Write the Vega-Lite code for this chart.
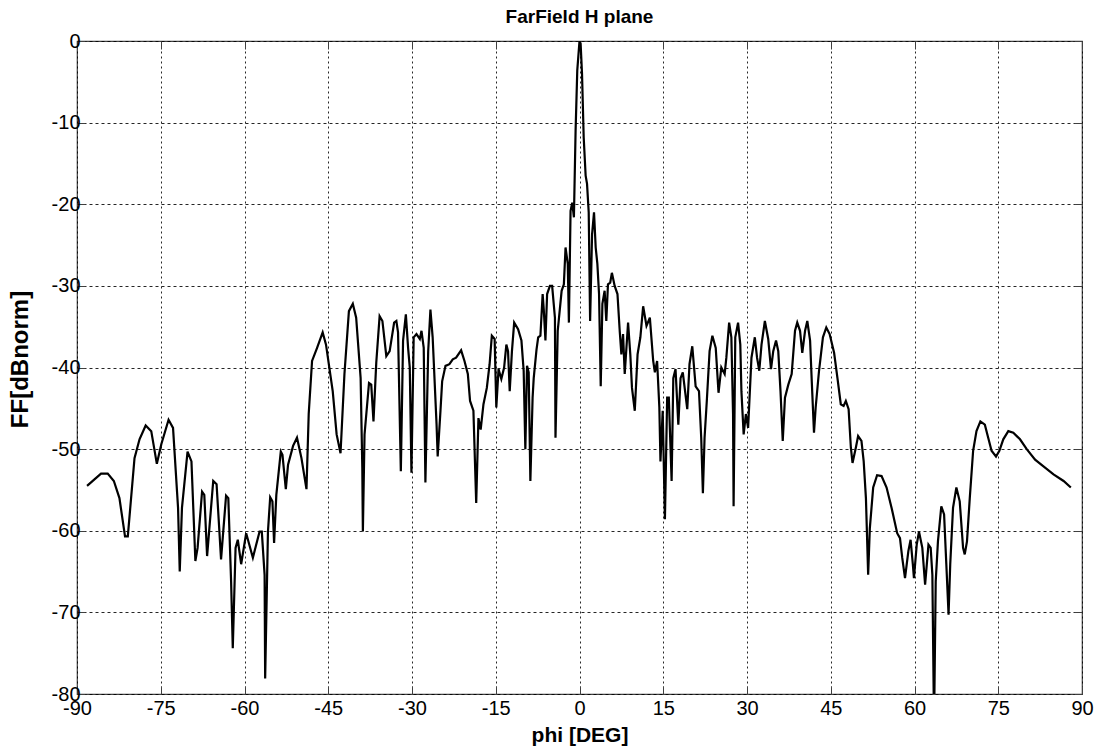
{
  "$schema": "https://vega.github.io/schema/vega-lite/v6.json",
  "width": 1005,
  "height": 653,
  "autosize": "none",
  "padding": {"left": 77, "top": 41, "right": 19, "bottom": 57},
  "background": "white",
  "config": {
    "view": {"stroke": "#404040", "strokeWidth": 1.2},
    "font": "Liberation Sans"
  },
  "title": {
    "text": "FarField H plane",
    "fontSize": 19,
    "fontWeight": "bold",
    "font": "Liberation Sans",
    "color": "black",
    "offset": 4,
    "anchor": "middle",
    "frame": "group"
  },
  "data": {
    "values": [
      {"phi": -88.2, "ff": -54.5}, {"phi": -85.7, "ff": -53.0}, {"phi": -84.5, "ff": -53.0}, {"phi": -83.4, "ff": -53.9},
      {"phi": -82.4, "ff": -56.0}, {"phi": -81.4, "ff": -60.7}, {"phi": -80.9, "ff": -60.7}, {"phi": -79.7, "ff": -51.1},
      {"phi": -78.8, "ff": -48.8}, {"phi": -77.7, "ff": -47.1}, {"phi": -76.7, "ff": -47.8}, {"phi": -75.7, "ff": -51.8},
      {"phi": -74.9, "ff": -49.4}, {"phi": -73.6, "ff": -46.4}, {"phi": -72.8, "ff": -47.4}, {"phi": -71.9, "ff": -57.2},
      {"phi": -71.6, "ff": -65.0}, {"phi": -71.2, "ff": -57.2}, {"phi": -70.2, "ff": -50.3}, {"phi": -69.5, "ff": -51.5},
      {"phi": -68.8, "ff": -63.7}, {"phi": -68.4, "ff": -62.1}, {"phi": -67.6, "ff": -55.2}, {"phi": -67.2, "ff": -55.6},
      {"phi": -66.7, "ff": -63.1}, {"phi": -65.6, "ff": -53.9}, {"phi": -65.0, "ff": -54.3}, {"phi": -64.2, "ff": -63.5},
      {"phi": -63.3, "ff": -55.7}, {"phi": -62.9, "ff": -56.0}, {"phi": -62.4, "ff": -66.2}, {"phi": -62.1, "ff": -74.4},
      {"phi": -61.6, "ff": -62.1}, {"phi": -61.2, "ff": -61.1}, {"phi": -60.6, "ff": -64.1}, {"phi": -59.7, "ff": -60.3},
      {"phi": -58.5, "ff": -63.3}, {"phi": -57.3, "ff": -60.1}, {"phi": -56.9, "ff": -60.1}, {"phi": -56.4, "ff": -65.4},
      {"phi": -56.3, "ff": -78.1}, {"phi": -55.8, "ff": -60.1}, {"phi": -55.4, "ff": -55.9}, {"phi": -55.0, "ff": -56.4},
      {"phi": -54.7, "ff": -61.5}, {"phi": -54.3, "ff": -55.6}, {"phi": -53.5, "ff": -50.3}, {"phi": -53.2, "ff": -50.7},
      {"phi": -52.6, "ff": -54.9}, {"phi": -52.2, "ff": -51.9}, {"phi": -51.3, "ff": -49.6}, {"phi": -50.6, "ff": -48.6},
      {"phi": -49.8, "ff": -51.1}, {"phi": -48.9, "ff": -54.9}, {"phi": -48.5, "ff": -45.7}, {"phi": -47.9, "ff": -39.2},
      {"phi": -47.0, "ff": -37.6}, {"phi": -46.0, "ff": -35.7}, {"phi": -45.4, "ff": -37.2}, {"phi": -44.2, "ff": -42.9},
      {"phi": -43.5, "ff": -48.2}, {"phi": -42.8, "ff": -50.5}, {"phi": -42.1, "ff": -40.8}, {"phi": -41.3, "ff": -33.1},
      {"phi": -40.6, "ff": -32.2}, {"phi": -40.0, "ff": -33.9}, {"phi": -39.2, "ff": -41.3}, {"phi": -38.9, "ff": -52.3},
      {"phi": -38.8, "ff": -60.1}, {"phi": -38.5, "ff": -48.2}, {"phi": -37.7, "ff": -41.9}, {"phi": -37.3, "ff": -42.1},
      {"phi": -36.9, "ff": -46.6}, {"phi": -36.4, "ff": -39.4}, {"phi": -35.8, "ff": -33.7}, {"phi": -35.3, "ff": -34.3},
      {"phi": -34.6, "ff": -38.6}, {"phi": -34.0, "ff": -38.0}, {"phi": -33.2, "ff": -34.5}, {"phi": -32.8, "ff": -34.3},
      {"phi": -32.5, "ff": -35.7}, {"phi": -32.0, "ff": -52.7}, {"phi": -31.6, "ff": -36.7}, {"phi": -31.1, "ff": -33.5},
      {"phi": -30.7, "ff": -37.6}, {"phi": -30.4, "ff": -40.0}, {"phi": -30.1, "ff": -52.9}, {"phi": -29.7, "ff": -36.3},
      {"phi": -29.2, "ff": -35.9}, {"phi": -28.6, "ff": -36.5}, {"phi": -28.3, "ff": -35.5}, {"phi": -27.9, "ff": -37.6},
      {"phi": -27.6, "ff": -54.1}, {"phi": -27.1, "ff": -38.0}, {"phi": -26.7, "ff": -32.9}, {"phi": -26.3, "ff": -36.3},
      {"phi": -25.6, "ff": -47.0}, {"phi": -25.4, "ff": -50.9}, {"phi": -24.9, "ff": -45.3}, {"phi": -24.6, "ff": -41.7},
      {"phi": -24.0, "ff": -39.8}, {"phi": -23.3, "ff": -39.6}, {"phi": -22.7, "ff": -39.0}, {"phi": -22.1, "ff": -38.8},
      {"phi": -21.2, "ff": -37.9}, {"phi": -20.6, "ff": -39.2}, {"phi": -20.0, "ff": -40.8}, {"phi": -19.6, "ff": -44.1},
      {"phi": -19.0, "ff": -45.3}, {"phi": -18.5, "ff": -56.6}, {"phi": -18.1, "ff": -46.2}, {"phi": -17.7, "ff": -47.6},
      {"phi": -17.2, "ff": -44.5}, {"phi": -16.6, "ff": -42.5}, {"phi": -16.1, "ff": -39.6}, {"phi": -15.7, "ff": -36.1},
      {"phi": -15.2, "ff": -36.5}, {"phi": -14.9, "ff": -44.9}, {"phi": -14.5, "ff": -40.2}, {"phi": -14.0, "ff": -41.4},
      {"phi": -13.5, "ff": -40.0}, {"phi": -13.1, "ff": -37.2}, {"phi": -12.8, "ff": -38.0}, {"phi": -12.5, "ff": -42.9},
      {"phi": -12.1, "ff": -38.0}, {"phi": -11.7, "ff": -34.5}, {"phi": -11.0, "ff": -35.3}, {"phi": -10.4, "ff": -36.7},
      {"phi": -10.0, "ff": -40.4}, {"phi": -9.7, "ff": -50.0}, {"phi": -9.4, "ff": -39.8}, {"phi": -9.1, "ff": -40.6},
      {"phi": -8.8, "ff": -53.9}, {"phi": -8.4, "ff": -43.7}, {"phi": -8.2, "ff": -41.3}, {"phi": -7.7, "ff": -37.8},
      {"phi": -7.4, "ff": -36.3}, {"phi": -7.0, "ff": -36.1}, {"phi": -6.6, "ff": -31.0}, {"phi": -6.4, "ff": -32.9},
      {"phi": -6.1, "ff": -36.7}, {"phi": -5.8, "ff": -31.0}, {"phi": -5.3, "ff": -30.0}, {"phi": -4.9, "ff": -30.0},
      {"phi": -4.4, "ff": -33.9}, {"phi": -4.3, "ff": -48.6}, {"phi": -3.9, "ff": -35.5}, {"phi": -3.2, "ff": -30.6},
      {"phi": -2.8, "ff": -29.8}, {"phi": -2.5, "ff": -25.3}, {"phi": -2.1, "ff": -27.3}, {"phi": -1.9, "ff": -34.5},
      {"phi": -1.6, "ff": -20.8}, {"phi": -1.3, "ff": -19.8}, {"phi": -1.0, "ff": -21.6}, {"phi": -0.7, "ff": -11.0},
      {"phi": -0.4, "ff": -3.6}, {"phi": 0.0, "ff": 0.0}, {"phi": 0.2, "ff": -0.3}, {"phi": 0.45, "ff": -4.0},
      {"phi": 0.75, "ff": -11.8}, {"phi": 1.1, "ff": -16.5}, {"phi": 1.35, "ff": -17.5}, {"phi": 1.65, "ff": -21.0},
      {"phi": 1.9, "ff": -34.3}, {"phi": 2.25, "ff": -23.7}, {"phi": 2.6, "ff": -21.0}, {"phi": 2.9, "ff": -25.3},
      {"phi": 3.2, "ff": -27.3}, {"phi": 3.5, "ff": -31.0}, {"phi": 3.8, "ff": -42.3}, {"phi": 4.1, "ff": -32.2},
      {"phi": 4.5, "ff": -30.6}, {"phi": 4.8, "ff": -34.3}, {"phi": 5.1, "ff": -29.8}, {"phi": 5.5, "ff": -29.6},
      {"phi": 5.8, "ff": -28.4}, {"phi": 6.3, "ff": -30.0}, {"phi": 6.8, "ff": -31.0}, {"phi": 7.2, "ff": -35.5},
      {"phi": 7.5, "ff": -38.4}, {"phi": 7.8, "ff": -35.9}, {"phi": 8.1, "ff": -40.8}, {"phi": 8.7, "ff": -34.5},
      {"phi": 9.1, "ff": -38.4}, {"phi": 9.4, "ff": -42.5}, {"phi": 9.9, "ff": -45.3}, {"phi": 10.4, "ff": -38.4},
      {"phi": 10.9, "ff": -36.3}, {"phi": 11.4, "ff": -32.5}, {"phi": 12.0, "ff": -34.9}, {"phi": 12.6, "ff": -33.9},
      {"phi": 13.2, "ff": -39.2}, {"phi": 13.5, "ff": -40.6}, {"phi": 13.9, "ff": -39.2}, {"phi": 14.3, "ff": -44.9},
      {"phi": 14.5, "ff": -51.5}, {"phi": 14.9, "ff": -45.3}, {"phi": 15.3, "ff": -58.6}, {"phi": 15.7, "ff": -43.7},
      {"phi": 16.0, "ff": -43.7}, {"phi": 16.5, "ff": -53.9}, {"phi": 16.8, "ff": -41.3}, {"phi": 17.2, "ff": -40.2},
      {"phi": 17.7, "ff": -47.0}, {"phi": 18.1, "ff": -41.3}, {"phi": 18.5, "ff": -40.6}, {"phi": 19.3, "ff": -45.1},
      {"phi": 19.7, "ff": -39.6}, {"phi": 20.2, "ff": -37.4}, {"phi": 20.8, "ff": -42.3}, {"phi": 21.4, "ff": -42.9},
      {"phi": 21.8, "ff": -48.6}, {"phi": 22.1, "ff": -55.4}, {"phi": 22.4, "ff": -48.6}, {"phi": 22.8, "ff": -44.1},
      {"phi": 23.3, "ff": -38.0}, {"phi": 23.8, "ff": -36.1}, {"phi": 24.4, "ff": -37.6}, {"phi": 24.9, "ff": -43.1},
      {"phi": 25.4, "ff": -40.0}, {"phi": 26.0, "ff": -40.8}, {"phi": 26.3, "ff": -38.8}, {"phi": 26.8, "ff": -34.5},
      {"phi": 27.2, "ff": -36.3}, {"phi": 27.5, "ff": -45.7}, {"phi": 27.6, "ff": -57.0}, {"phi": 27.9, "ff": -36.3},
      {"phi": 28.4, "ff": -34.5}, {"phi": 28.8, "ff": -37.2}, {"phi": 29.0, "ff": -42.9}, {"phi": 29.4, "ff": -48.2},
      {"phi": 29.8, "ff": -45.7}, {"phi": 30.2, "ff": -47.4}, {"phi": 30.8, "ff": -38.8}, {"phi": 31.4, "ff": -36.3},
      {"phi": 31.8, "ff": -38.8}, {"phi": 32.2, "ff": -40.4}, {"phi": 32.6, "ff": -37.2}, {"phi": 33.2, "ff": -34.3},
      {"phi": 33.8, "ff": -36.5}, {"phi": 34.3, "ff": -40.2}, {"phi": 34.7, "ff": -38.0}, {"phi": 35.2, "ff": -36.7},
      {"phi": 35.6, "ff": -38.0}, {"phi": 36.0, "ff": -42.9}, {"phi": 36.4, "ff": -49.0}, {"phi": 36.8, "ff": -43.7},
      {"phi": 37.4, "ff": -42.1}, {"phi": 38.0, "ff": -40.8}, {"phi": 38.6, "ff": -35.5}, {"phi": 39.0, "ff": -34.5},
      {"phi": 39.5, "ff": -35.5}, {"phi": 39.9, "ff": -38.2}, {"phi": 40.4, "ff": -35.5}, {"phi": 40.8, "ff": -34.3},
      {"phi": 41.3, "ff": -36.7}, {"phi": 41.6, "ff": -41.7}, {"phi": 42.0, "ff": -48.0}, {"phi": 42.3, "ff": -44.9},
      {"phi": 42.9, "ff": -40.4}, {"phi": 43.6, "ff": -36.3}, {"phi": 44.2, "ff": -35.1}, {"phi": 44.8, "ff": -35.9},
      {"phi": 45.6, "ff": -38.2}, {"phi": 46.2, "ff": -41.3}, {"phi": 46.8, "ff": -44.5}, {"phi": 47.3, "ff": -44.7},
      {"phi": 47.7, "ff": -44.1}, {"phi": 48.2, "ff": -45.1}, {"phi": 48.6, "ff": -49.8}, {"phi": 48.9, "ff": -51.7},
      {"phi": 49.5, "ff": -49.8}, {"phi": 49.9, "ff": -48.4}, {"phi": 50.5, "ff": -49.0}, {"phi": 50.9, "ff": -51.5},
      {"phi": 51.3, "ff": -56.0}, {"phi": 51.7, "ff": -65.4}, {"phi": 52.0, "ff": -59.7}, {"phi": 52.6, "ff": -54.7},
      {"phi": 53.3, "ff": -53.2}, {"phi": 54.1, "ff": -53.3}, {"phi": 55.0, "ff": -54.7}, {"phi": 55.9, "ff": -57.2},
      {"phi": 56.9, "ff": -60.3}, {"phi": 57.4, "ff": -60.9}, {"phi": 57.8, "ff": -63.3}, {"phi": 58.3, "ff": -65.8},
      {"phi": 58.9, "ff": -62.5}, {"phi": 59.3, "ff": -61.1}, {"phi": 59.7, "ff": -64.1}, {"phi": 59.9, "ff": -65.8},
      {"phi": 60.4, "ff": -61.7}, {"phi": 60.8, "ff": -60.1}, {"phi": 61.4, "ff": -62.1}, {"phi": 61.9, "ff": -66.6},
      {"phi": 62.5, "ff": -61.7}, {"phi": 62.9, "ff": -62.1}, {"phi": 63.2, "ff": -65.4}, {"phi": 63.5, "ff": -84.0},
      {"phi": 63.8, "ff": -66.2}, {"phi": 64.2, "ff": -61.3}, {"phi": 64.8, "ff": -57.0}, {"phi": 65.3, "ff": -58.0},
      {"phi": 65.7, "ff": -64.1}, {"phi": 66.1, "ff": -70.3}, {"phi": 66.4, "ff": -64.1}, {"phi": 66.9, "ff": -57.2},
      {"phi": 67.5, "ff": -54.7}, {"phi": 68.1, "ff": -56.4}, {"phi": 68.7, "ff": -62.1}, {"phi": 69.0, "ff": -62.9},
      {"phi": 69.4, "ff": -61.3}, {"phi": 69.9, "ff": -56.0}, {"phi": 70.5, "ff": -50.2}, {"phi": 71.1, "ff": -47.8},
      {"phi": 71.8, "ff": -46.6}, {"phi": 72.6, "ff": -47.0}, {"phi": 73.2, "ff": -48.6}, {"phi": 73.8, "ff": -50.2},
      {"phi": 74.6, "ff": -50.9}, {"phi": 75.2, "ff": -50.2}, {"phi": 75.9, "ff": -48.8}, {"phi": 76.8, "ff": -47.8},
      {"phi": 77.7, "ff": -48.0}, {"phi": 78.9, "ff": -48.8}, {"phi": 80.1, "ff": -50.0}, {"phi": 81.6, "ff": -51.3},
      {"phi": 83.1, "ff": -52.1}, {"phi": 84.9, "ff": -53.1}, {"phi": 86.7, "ff": -53.9}, {"phi": 88.0, "ff": -54.7}
    ]
  },
  "layer": [
    {
      "mark": {"type": "line", "color": "black", "strokeWidth": 2.2, "clip": true},
      "encoding": {
        "x": {
          "field": "phi", "type": "quantitative",
          "scale": {"domain": [-90, 90], "nice": false, "zero": false},
          "axis": {
            "orient": "bottom",
            "values": [-90, -75, -60, -45, -30, -15, 0, 15, 30, 45, 60, 75, 90],
            "labelExpr": "'' + datum.value",
            "title": "phi [DEG]",
            "titleFont": "Liberation Sans", "titleFontSize": 21, "titleFontWeight": "bold", "titleColor": "black",
            "titlePadding": 6,
            "labelFont": "Liberation Sans", "labelFontSize": 20, "labelColor": "black", "labelPadding": 12,
            "labelFlush": false, "labelOverlap": false,
            "domain": false,
            "ticks": true, "tickSize": -8, "tickColor": "#404040",
            "grid": true, "gridColor": "black", "gridDash": [2, 3], "gridOpacity": 0.85, "gridWidth": 1
          }
        },
        "y": {
          "field": "ff", "type": "quantitative",
          "scale": {"domain": [-80, 0], "nice": false, "zero": false},
          "axis": {
            "orient": "left",
            "values": [-80, -70, -60, -50, -40, -30, -20, -10, 0],
            "labelExpr": "'' + datum.value",
            "title": "FF[dBnorm]",
            "titleFont": "Liberation Sans", "titleFontSize": 24, "titleFontWeight": "bold", "titleColor": "black",
            "titlePadding": 19, "titleY": 318,
            "labelFont": "Liberation Sans", "labelFontSize": 20, "labelColor": "black", "labelPadding": 5,
            "labelFlush": false, "labelOverlap": false,
            "domain": false,
            "ticks": true, "tickSize": -8, "tickColor": "#404040",
            "grid": true, "gridColor": "black", "gridDash": [3, 3], "gridOpacity": 0.85, "gridWidth": 1
          }
        }
      }
    },
    {
      "mark": {"type": "line", "opacity": 0},
      "encoding": {
        "x": {
          "field": "phi", "type": "quantitative",
          "axis": {
            "orient": "top", "values": [-90, -75, -60, -45, -30, -15, 0, 15, 30, 45, 60, 75, 90],
            "title": null, "labels": false, "domain": false, "grid": false,
            "ticks": true, "tickSize": -8, "tickColor": "#404040"
          }
        },
        "y": {
          "field": "ff", "type": "quantitative",
          "axis": {
            "orient": "right", "values": [-80, -70, -60, -50, -40, -30, -20, -10, 0],
            "title": null, "labels": false, "domain": false, "grid": false,
            "ticks": true, "tickSize": -8, "tickColor": "#404040"
          }
        }
      }
    }
  ],
  "resolve": {"axis": {"x": "independent", "y": "independent"}}
}
